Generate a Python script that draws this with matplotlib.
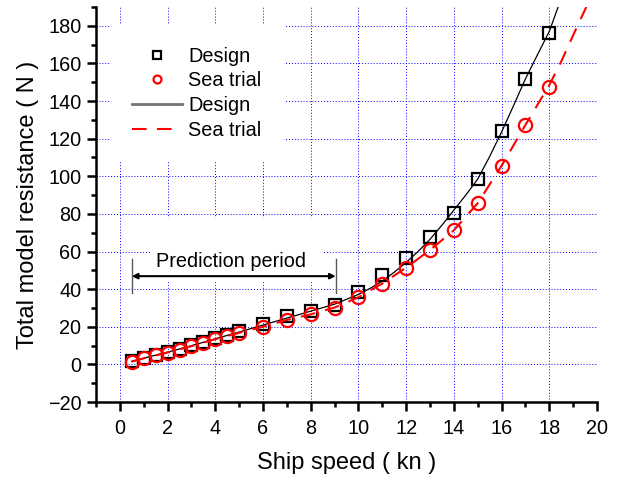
import numpy as np
from matplotlib import pyplot as plt
from matplotlib import ticker
from matplotlib.patches import Rectangle

plt.rcParams['font.family'] = ['Liberation Sans', 'DejaVu Sans']

############################# DATA #############################
speed = [0.5, 1, 1.5, 2, 2.5, 3, 3.5, 4, 4.5, 5, 6, 7, 8, 9, 10, 11, 12, 13, 14, 15, 16, 17, 18]
design = [1.7, 3.4, 5.2, 6.6, 8.3, 10.1, 11.8, 13.9, 15.8, 17.6, 21.3, 25.5, 28.5, 31.8,
          38.7, 47.3, 56.7, 67.7, 80.7, 98.5, 124.3, 151.8, 176.4]
seatrial = [1.5, 3.2, 4.9, 6.3, 7.9, 9.7, 11.4, 13.4, 15.1, 16.8, 20.0, 23.6, 26.6, 30.2,
            35.7, 43.0, 51.4, 60.8, 71.3, 85.7, 105.6, 127.3, 147.4]

# fitted curves
design_fit_x = [0.5, 1, 2, 3, 4, 5, 6, 7, 8, 9, 10, 10.5, 11, 11.5, 12, 12.5, 13, 13.5, 14,
                14.5, 15, 15.5, 16, 16.5, 17, 17.5, 18, 18.37]
design_fit_y = [1.6, 3.3, 6.5, 9.9, 13.6, 17.2, 20.9, 24.6, 28.3, 32.0, 37.2, 40.5, 44.3, 49.0,
                54.2, 60.0, 66.5, 74.0, 82.0, 90.0, 98.5, 110.5, 123.5, 137.5, 151.8, 164.5,
                177.0, 190.0]
sea_fit_x = [0.5, 1, 2, 3, 4, 5, 6, 7, 8, 9, 10, 11, 12, 13, 14, 15, 16, 17, 18, 18.5, 19, 19.55]
sea_fit_y = [1.5, 3.2, 6.3, 9.7, 13.4, 16.8, 20.0, 23.6, 26.6, 30.2, 35.7, 43.0, 51.4, 60.8,
             71.3, 85.7, 105.6, 127.3, 148.5, 161.0, 175.0, 190.0]

pred_start, pred_end = 0.5, 9.05

############################# PLOT #############################
fig = plt.figure(figsize=(6.19, 4.82), dpi=100)
ax = fig.add_axes([96/619, 80/482, 501/619, 395/482])

ax.plot(speed, design, ls='none', marker='s', ms=9, mew=1.6, mfc='none', mec='black',
        label='Design', zorder=4)
ax.plot(speed, seatrial, ls='none', marker='o', ms=9.5, mew=1.6, mfc='none', mec='red',
        label='Sea trial', zorder=5)
ax.plot(design_fit_x, design_fit_y, color='black', lw=0.9, label='Design', zorder=4.5)
ax.plot(sea_fit_x, sea_fit_y, color='red', lw=1.5, dashes=(7, 5), label='Sea trial', zorder=5)

# prediction period annotation
ax.add_patch(Rectangle((1.25, 43.6), 7.3, 34.4, facecolor='white', edgecolor='none', zorder=1.5))
ax.plot([pred_start, pred_start], [38.2, 55.8], color='0.35', lw=1, zorder=3)
ax.plot([pred_end, pred_end], [38.2, 55.8], color='0.35', lw=1, zorder=3)
ax.annotate('', xy=(pred_start, 46.9), xytext=(pred_end, 46.9),
            arrowprops=dict(arrowstyle='<|-|>', color='black', lw=1.5,
                            mutation_scale=8, shrinkA=0, shrinkB=0), zorder=3)
ax.text((pred_start + pred_end) / 2 - 0.1, 54.5, 'Prediction period', fontsize=14.3,
        ha='center', va='center', zorder=3)

ax.set_xlim(-1, 20)
ax.set_ylim(-20, 190)
ax.xaxis.set_major_locator(ticker.MultipleLocator(2))
ax.xaxis.set_minor_locator(ticker.MultipleLocator(1))
ax.yaxis.set_major_locator(ticker.MultipleLocator(20))
ax.yaxis.set_minor_locator(ticker.MultipleLocator(10))
ax.set_xticks(np.arange(0, 21, 2))

ax.grid(True, which='major', color='blue', ls=(0, (1, 2)), lw=0.7, zorder=1)
ax.set_axisbelow(True)

for s in ['top', 'right']:
    ax.spines[s].set_visible(False)
for s in ['left', 'bottom']:
    ax.spines[s].set_linewidth(1.8)

ax.tick_params(which='major', direction='out', length=6.5, width=1.8, labelsize=14.3, pad=4)
ax.tick_params(which='minor', direction='out', length=3.5, width=1.8)
ax.tick_params(axis='x', which='major', pad=6)

ax.set_xlabel('Ship speed ( kn )', fontsize=17, labelpad=10)
ax.set_ylabel('Total model resistance ( N )', fontsize=17, labelpad=6)

leg = ax.legend(loc='upper left', bbox_to_anchor=(14/501, 1 - 18/395), borderaxespad=0,
                fontsize=14.3, frameon=True, facecolor='white', edgecolor='none', framealpha=1,
                fancybox=False, borderpad=1.1, labelspacing=0.28, handlelength=2.55,
                handletextpad=0.3, markerscale=0.6)
leg.legend_handles[2].set_color('0.45')
leg.legend_handles[2].set_linewidth(2)
leg.set_zorder(2)

plt.savefig('out.png', dpi=100)
